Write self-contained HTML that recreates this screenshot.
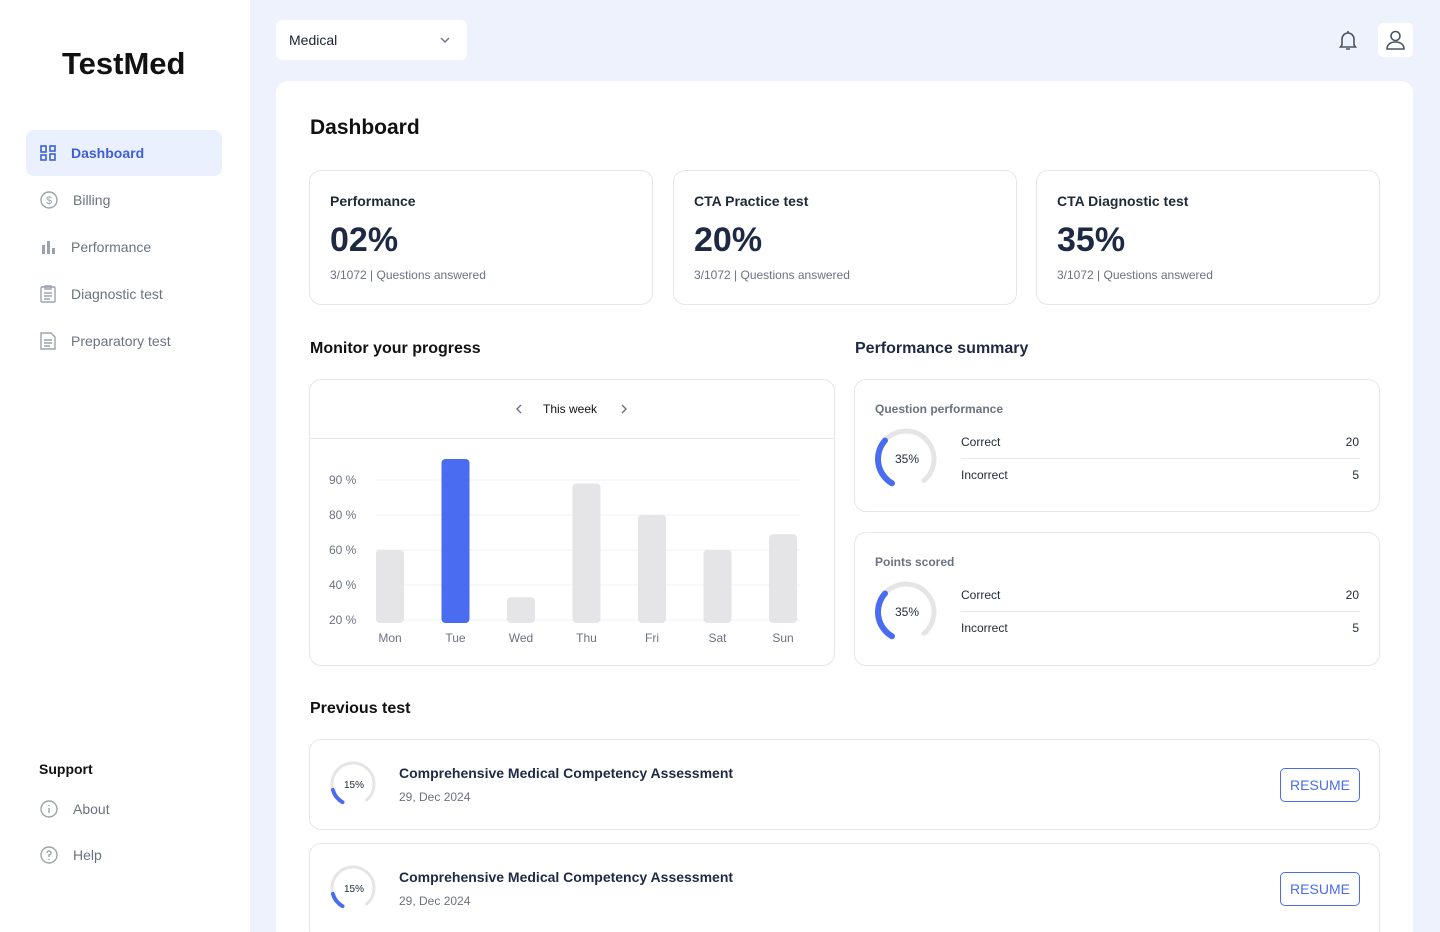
<!DOCTYPE html>
<html style="width:1440px;height:932px;overflow:hidden"><head><meta charset="utf-8"><style>
*{box-sizing:border-box;margin:0;padding:0}
body{width:1440px;height:932px;overflow:hidden;background:#eef2fd;font-family:"Liberation Sans",sans-serif;color:#1c2433;position:relative}
.abs{position:absolute}
.side{left:0;top:0;width:250px;height:932px;background:#fff}
.nav{left:26px;width:196px;height:46px;border-radius:8px;display:flex;align-items:center;padding-left:14px;font-size:14px;color:#6b7280}
.nav svg{margin-right:15px}
.card{background:#fff;border:1px solid #e3e6ec;border-radius:12px}
.stat-t{font-size:14px;font-weight:bold;color:#1f2937}
.stat-v{font-size:34px;font-weight:bold;color:#1e2a44}
.stat-s{font-size:12px;color:#6b7280}
.h2{font-size:16px;font-weight:bold;color:#111}
.row{font-size:12px;color:#1f2937}
.btn{border:1px solid #4a6cf0;border-radius:5px;color:#4a6cf0;font-size:14px;display:flex;align-items:center;justify-content:center}
</style></head><body>
<div class="abs side">
  <div class="abs" style="left:62px;top:46px;font-size:31px;font-weight:bold;color:#111">TestMed</div>
  <div class="abs nav" style="top:130px;background:#eaf0fd;color:#3f5fd8;font-weight:bold"><svg width="16" height="16" viewBox="0 0 16 16" fill="none" stroke="#3f5fd8" stroke-width="1.6"><rect x="1" y="1" width="5" height="6"/><rect x="1" y="10" width="5" height="5"/><rect x="10" y="1" width="5" height="5"/><rect x="10" y="9" width="5" height="6"/></svg>Dashboard</div>
  <div class="abs nav" style="top:177px"><svg width="18" height="18" viewBox="0 0 18 18" fill="none" stroke="#9ca3af" stroke-width="1.4"><circle cx="9" cy="9" r="8"/><text x="9" y="13" font-size="11" text-anchor="middle" fill="#9ca3af" stroke="none" font-family="Liberation Sans">$</text></svg>Billing</div>
  <div class="abs nav" style="top:224px"><svg width="16" height="16" viewBox="0 0 16 16" fill="#9ca3af"><rect x="2" y="6" width="3" height="9"/><rect x="7" y="2" width="3" height="13"/><rect x="12" y="9" width="3" height="6"/></svg>Performance</div>
  <div class="abs nav" style="top:271px"><svg width="16" height="18" viewBox="0 0 16 18" fill="none" stroke="#9ca3af" stroke-width="1.4"><rect x="1" y="2" width="14" height="15" rx="1"/><path d="M5 1h6v3H5zM4 8h8M4 11h8M4 14h6"/></svg>Diagnostic test</div>
  <div class="abs nav" style="top:318px"><svg width="16" height="18" viewBox="0 0 16 18" fill="none" stroke="#9ca3af" stroke-width="1.4"><path d="M1 1h10l4 4v12H1z"/><path d="M4 8h8M4 11h8M4 14h6"/></svg>Preparatory test</div>
  <div class="abs" style="left:39px;top:761px;font-size:14px;font-weight:bold;color:#111">Support</div>
  <div class="abs nav" style="top:786px"><svg width="18" height="18" viewBox="0 0 18 18" fill="none" stroke="#9ca3af" stroke-width="1.4"><circle cx="9" cy="9" r="8"/><path d="M9 8v5M9 5v1"/></svg>About</div>
  <div class="abs nav" style="top:832px"><svg width="18" height="18" viewBox="0 0 18 18" fill="none" stroke="#9ca3af" stroke-width="1.4"><circle cx="9" cy="9" r="8"/><path d="M7 7a2 2 0 1 1 2 2v2M9 13v1"/></svg>Help</div>
</div>

<div class="abs" style="left:276px;top:20px;width:191px;height:40px;background:#fff;border-radius:6px;display:flex;align-items:center;justify-content:space-between;padding:0 16px 0 13px;font-size:14px">Medical<svg width="12" height="8" viewBox="0 0 12 8" fill="none" stroke="#6b7280" stroke-width="1.4"><path d="M2 2l4 4 4-4"/></svg></div>
<svg class="abs" style="left:1337px;top:29px" width="22" height="22" viewBox="0 0 22 22" fill="none" stroke="#4b5563" stroke-width="1.6"><path d="M5 16V10a6 6 0 0 1 12 0v6l1.5 2h-15z"/><path d="M9 20h4M11 2v2"/></svg>
<div class="abs" style="left:1378px;top:23px;width:35px;height:34px;background:#fff;border-radius:5px"><svg width="35" height="34" viewBox="0 0 35 34" fill="none" stroke="#4b5563" stroke-width="1.6"><circle cx="17.5" cy="13" r="4.5"/><path d="M9 26c0-5 4-7 8.5-7s8.5 2 8.5 7z"/></svg></div>

<div class="abs" style="left:276px;top:81px;width:1137px;height:851px;background:#fff;border-radius:12px 12px 0 0"></div>
<div class="abs" style="left:310px;top:116px;font-size:21px;font-weight:bold;color:#111">Dashboard</div>

<div class="abs card" style="left:309px;top:170px;width:344px;height:135px">
  <div class="abs stat-t" style="left:20px;top:22px">Performance</div><div class="abs stat-v" style="left:20px;top:50px">02%</div><div class="abs stat-s" style="left:20px;top:97px">3/1072 | Questions answered</div></div>
<div class="abs card" style="left:673px;top:170px;width:344px;height:135px">
  <div class="abs stat-t" style="left:20px;top:22px">CTA Practice test</div><div class="abs stat-v" style="left:20px;top:50px">20%</div><div class="abs stat-s" style="left:20px;top:97px">3/1072 | Questions answered</div></div>
<div class="abs card" style="left:1036px;top:170px;width:344px;height:135px">
  <div class="abs stat-t" style="left:20px;top:22px">CTA Diagnostic test</div><div class="abs stat-v" style="left:20px;top:50px">35%</div><div class="abs stat-s" style="left:20px;top:97px">3/1072 | Questions answered</div></div>

<div class="abs h2" style="left:310px;top:340px">Monitor your progress</div>
<div class="abs h2" style="left:855px;top:340px;color:#1e2a44">Performance summary</div>

<div class="abs card" style="left:309px;top:379px;width:526px;height:287px">
  <div class="abs" style="left:0;top:58px;width:524px;border-top:1px solid #e3e6ec"></div>
  <svg class="abs" style="left:204px;top:22px" width="10" height="14" viewBox="0 0 10 14" fill="none" stroke="#6b7280" stroke-width="1.4"><path d="M7 3L3 7l4 4"/></svg>
  <div class="abs" style="left:233px;top:22px;font-size:12px;color:#111">This week</div>
  <svg class="abs" style="left:309px;top:22px" width="10" height="14" viewBox="0 0 10 14" fill="none" stroke="#6b7280" stroke-width="1.4"><path d="M3 3l4 4-4 4"/></svg>
</div>
<svg class="abs" id="chart" style="left:0;top:0" width="1440" height="932" pointer-events="none"></svg>

<div class="abs card" style="left:854px;top:379px;width:526px;height:133px">
  <div class="abs" style="left:20px;top:22px;font-size:12px;font-weight:bold;color:#6b7280">Question performance</div>
  <svg class="abs gauge" data-pct="35" style="left:16px;top:44px" width="70" height="70"></svg>
  <div class="abs row" style="left:106px;top:55px">Correct</div><div class="abs row" style="right:20px;top:55px">20</div>
  <div class="abs" style="left:106px;top:78px;width:399px;border-top:1px solid #e3e6ec"></div>
  <div class="abs row" style="left:106px;top:88px">Incorrect</div><div class="abs row" style="right:20px;top:88px">5</div>
</div>
<div class="abs card" style="left:854px;top:532px;width:526px;height:134px">
  <div class="abs" style="left:20px;top:22px;font-size:12px;font-weight:bold;color:#6b7280">Points scored</div>
  <svg class="abs gauge" data-pct="35" style="left:16px;top:44px" width="70" height="70"></svg>
  <div class="abs row" style="left:106px;top:55px">Correct</div><div class="abs row" style="right:20px;top:55px">20</div>
  <div class="abs" style="left:106px;top:78px;width:399px;border-top:1px solid #e3e6ec"></div>
  <div class="abs row" style="left:106px;top:88px">Incorrect</div><div class="abs row" style="right:20px;top:88px">5</div>
</div>

<div class="abs h2" style="left:310px;top:700px">Previous test</div>
<div class="abs card" style="left:309px;top:739px;width:1071px;height:91px">
  <svg class="abs gauge small" data-pct="15" style="left:16px;top:17px" width="54" height="54"></svg>
  <div class="abs" style="left:89px;top:25px;font-size:14px;font-weight:bold;color:#1e2a44">Comprehensive Medical Competency Assessment</div>
  <div class="abs stat-s" style="left:89px;top:50px">29, Dec 2024</div>
  <div class="abs btn" style="left:970px;top:28px;width:80px;height:34px">RESUME</div>
</div>
<div class="abs card" style="left:309px;top:843px;width:1071px;height:100px">
  <svg class="abs gauge small" data-pct="15" style="left:16px;top:17px" width="54" height="54"></svg>
  <div class="abs" style="left:89px;top:25px;font-size:14px;font-weight:bold;color:#1e2a44">Comprehensive Medical Competency Assessment</div>
  <div class="abs stat-s" style="left:89px;top:50px">29, Dec 2024</div>
  <div class="abs btn" style="left:970px;top:28px;width:80px;height:34px">RESUME</div>
</div>

<script>
const days = ["Mon","Tue","Wed","Thu","Fri","Sat","Sun"];
const values = [60,96,33,89,80,60,69];
const tickValues = [20,40,60,80,90];
const tickLabels = ["20 %","40 %","60 %","80 %","90 %"];
const highlightIndex = 1;

const NS="http://www.w3.org/2000/svg";
const svg=document.getElementById('chart');
const plotL=376, plotR=800, y20=620, step=35, baseY=623;
function yScale(v){
  if(v<=tickValues[0]) return y20-(v-tickValues[0])/(tickValues[1]-tickValues[0])*step;
  for(let i=0;i<tickValues.length-1;i++){
    if(v<=tickValues[i+1]) return y20-step*i-(v-tickValues[i])/(tickValues[i+1]-tickValues[i])*step;
  }
  const n=tickValues.length-1;
  return y20-step*n-(v-tickValues[n])/(tickValues[n]-tickValues[n-1])*step;
}
function xScale(i){return 390+i*(783-390)/(days.length-1);}
function mk(t,a){const e=document.createElementNS(NS,t);for(const k in a)e.setAttribute(k,a[k]);svg.appendChild(e);return e;}
tickValues.forEach((v,i)=>{
  const y=yScale(v);
  const g=mk('line',{x1:plotL,x2:plotR,y1:y,y2:y,stroke:'#f1f2f4','stroke-width':1});
  
  
  const t=mk('text',{x:329,y:y+4,'font-size':12,fill:'#6b7280','font-family':'Liberation Sans'});
  t.textContent=tickLabels[i];
  
  
});
days.forEach((d,i)=>{
  const x=xScale(i), y=yScale(values[i]);
  const b=mk('rect',{x:x-14,y:y,width:28,height:baseY-y,rx:4,fill:i===highlightIndex?'#4a6cf0':'#e5e5e7'});
  
  
  const t=mk('text',{x:x,y:642,'font-size':12,fill:'#6b7280','text-anchor':'middle','font-family':'Liberation Sans'});
  t.textContent=d;
  
  
});

function arc(cx,cy,r,a0,a1){
  const p=a=>[cx+r*Math.cos(a*Math.PI/180),cy+r*Math.sin(a*Math.PI/180)];
  const [x0,y0]=p(a0),[x1,y1]=p(a1);
  return `M${x0} ${y0}A${r} ${r} 0 ${(a1-a0)>180?1:0} 1 ${x1} ${y1}`;
}
document.querySelectorAll('.gauge').forEach(g=>{
  const pct=+g.dataset.pct, s=+g.getAttribute('width'), c=s/2, small=g.classList.contains('small');
  const r=small?21:28, sw=small?4:6;
  
  
  g.innerHTML=`<path d="${arc(c,c,r,120,410)}" fill="none" stroke="#e5e5e7" stroke-width="${sw-1}" stroke-linecap="round"/>
  <path d="${arc(c,c,r,120,120+pct/100*290)}" fill="none" stroke="#4a6cf0" stroke-width="${sw}" stroke-linecap="round"/>
  <text x="${c+1}" y="${c+4}" text-anchor="middle" font-size="${small?10:12}" fill="#1f2937" font-family="Liberation Sans">${pct}%</text>`;
});
</script>
</body></html>
